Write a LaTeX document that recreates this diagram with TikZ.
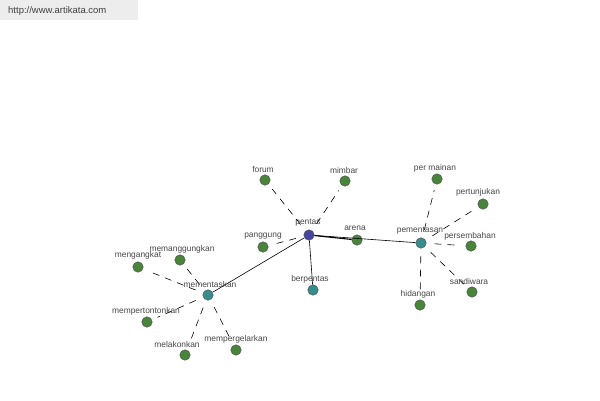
\documentclass[tikz,border=0pt]{standalone}
\usepackage{fontspec}
\setmainfont{Liberation Sans}
\definecolor{ngreen}{RGB}{72,132,58}
\definecolor{nteal}{RGB}{56,140,140}
\definecolor{nblue}{RGB}{70,70,160}
\begin{document}
\begin{tikzpicture}[x=1pt,y=-1pt,
  vtx/.style={circle,draw=black!70,line width=0.4pt,minimum size=10.5pt,inner sep=0pt},
  gr/.style={vtx,fill=ngreen},
  tl/.style={vtx,fill=nteal},
  bl/.style={vtx,fill=nblue},
  lbl/.style={font=\fontsize{8.4}{9}\selectfont,text=black!72,inner sep=0pt},
  sl/.style={draw=black,line width=0.6pt},
  dl/.style={draw=black,line width=0.6pt,dash pattern=on 7pt off 6pt,shorten >=6pt,shorten <=8pt}]
\useasboundingbox (0,0) rectangle (600,400);
\fill[white] (0,0) rectangle (600,400);
\fill[black!7] (0,0) rectangle (138,20);
\node[anchor=west,font=\fontsize{9.5}{11}\selectfont,text=black!75,inner sep=0pt] (url) at (8,11) {http://www.artikata.com};
% edges
\coordinate (cpentas) at (309,235);
\coordinate (carena) at (357,240);
\coordinate (cpementasan) at (421,243);
\coordinate (cberpentas) at (313,290);
\coordinate (cmementaskan) at (208,295);
% nodes
\node[bl] (pentas) at (cpentas) {};
\node[gr] (arena) at (carena) {};
\node[tl] (pementasan) at (cpementasan) {};
\node[gr] (permainan) at (437,179) {};
\node[gr] (pertunjukan) at (483,204) {};
\node[gr] (persembahan) at (471,246) {};
\node[gr] (sandiwara) at (472,292) {};
\node[gr] (hidangan) at (420,305) {};
\node[gr] (forum) at (265,180) {};
\node[gr] (mimbar) at (345,181) {};
\node[gr] (panggung) at (263,247) {};
\node[tl] (berpentas) at (cberpentas) {};
\node[tl] (mementaskan) at (cmementaskan) {};
\node[gr] (mengangkat) at (138,267) {};
\node[gr] (memanggungkan) at (180,260) {};
\node[gr] (mempertontonkan) at (147,322) {};
\node[gr] (melakonkan) at (185,355) {};
\node[gr] (mempergelarkan) at (236,350) {};
% connectors
\draw[sl] (pentas) -- (pementasan);
\draw[sl,line width=1.1pt] (pentas) -- (arena);
\draw[sl] (pentas) -- (berpentas);
\draw[sl] (pentas) -- (mementaskan);
\draw[dl] (pentas) -- (forum);
\draw[dl] (pentas) -- (mimbar);
\draw[dl] (pentas) -- (panggung);
\draw[dl] (pementasan) -- (permainan);
\draw[dl] (pementasan) -- (pertunjukan);
\draw[dl] (pementasan) -- (persembahan);
\draw[dl] (pementasan) -- (sandiwara);
\draw[dl] (pementasan) -- (hidangan);
\draw[dl] (mementaskan) -- (mengangkat);
\draw[dl] (mementaskan) -- (memanggungkan);
\draw[dl] (mementaskan) -- (mempertontonkan);
\draw[dl] (mementaskan) -- (melakonkan);
\draw[dl] (mementaskan) -- (mempergelarkan);
% labels
\node[lbl] (lpentas) at (308,223) {pentas};
\node[lbl] (larena) at (355,228) {arena};
\node[lbl] (lpementasan) at (420,231) {pementasan};
\node[lbl] (lpermainan) at (435,168) {per mainan};
\node[lbl] (lpertunjukan) at (478,192) {pertunjukan};
\node[lbl] (lpersembahan) at (470,236) {persembahan};
\node[lbl] (lsandiwara) at (469,281) {sandiwara};
\node[lbl] (lhidangan) at (418,294) {hidangan};
\node[lbl] (lforum) at (263,169) {forum};
\node[lbl] (lmimbar) at (344,170) {mimbar};
\node[lbl] (lpanggung) at (263,236) {panggung};
\node[lbl] (lberpentas) at (310,279) {berpentas};
\node[lbl] (lmementaskan) at (210,284) {mementaskan};
\node[lbl] (lmengangkat) at (138,255) {mengangkat};
\node[lbl] (lmemanggungkan) at (182,249) {memanggungkan};
\node[lbl] (lmempertontonkan) at (146,311) {mempertontonkan};
\node[lbl] (lmelakonkan) at (177,344) {melakonkan};
\node[lbl] (lmempergelarkan) at (236,339) {mempergelarkan};
\end{tikzpicture}
\end{document}
